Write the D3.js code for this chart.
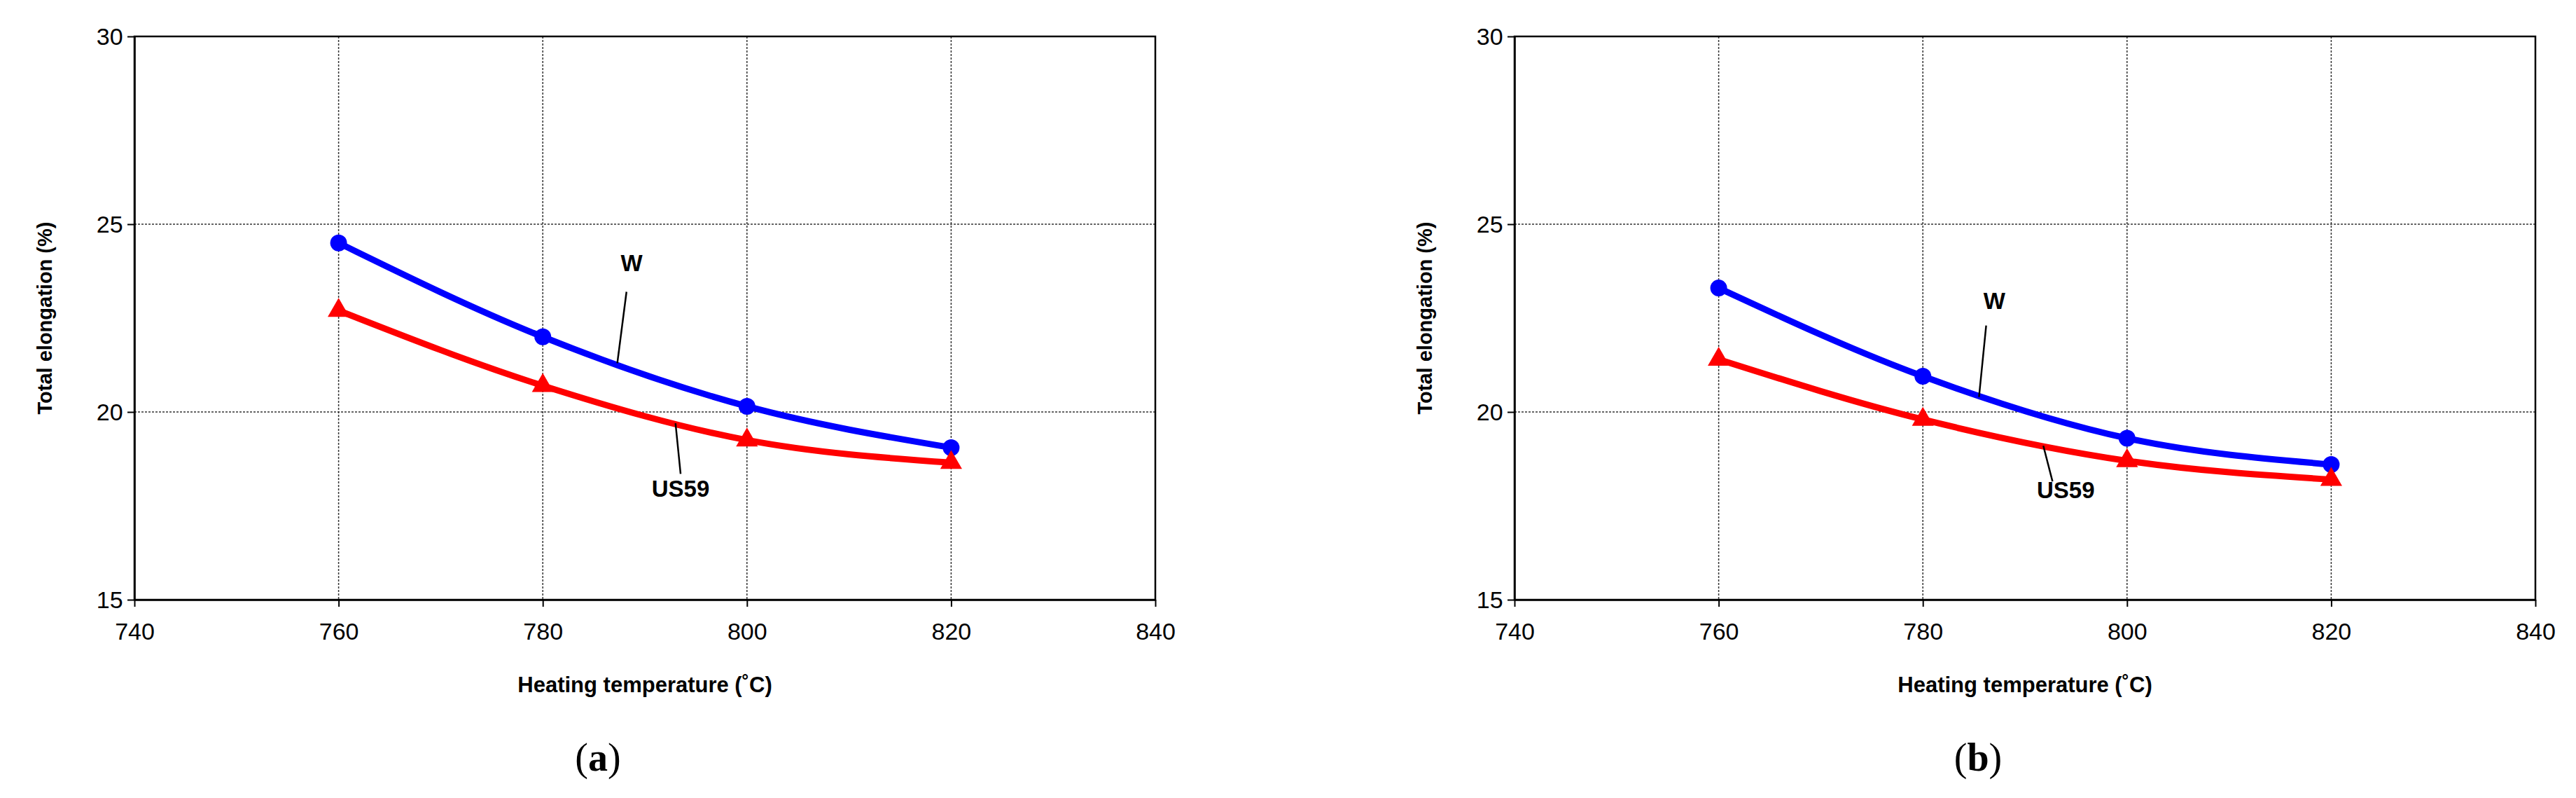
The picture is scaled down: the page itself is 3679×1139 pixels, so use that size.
<!DOCTYPE html>
<html><head><meta charset="utf-8">
<script src="https://cdn.jsdelivr.net/npm/d3@7"></script>
<style>body{margin:0;background:#fff}</style>
</head><body>
<div id="chart"></div>
<script>
let temps = [760, 780, 800, 820];
let xTicks = [740, 760, 780, 800, 820, 840];
let yTicks = [15, 20, 25, 30];
let wA = [24.5, 22.0, 20.15, 19.05];
let usA = [22.7, 20.7, 19.25, 18.65];
let wB = [23.3, 20.95, 19.3, 18.6];
let usB = [21.4, 19.8, 18.7, 18.2];
let panels = [
  { cap: "a", left: 192, w: wA, us: usA,
    wLabel: [788.7, 23.75], wLead: [[788.2, 23.2], [787.3, 21.3]],
    usLabel: [793.5, 17.75], usLead: [[793, 19.7], [793.5, 18.35]] },
  { cap: "b", left: 2163, w: wB, us: usB,
    wLabel: [787, 22.75], wLead: [[786.2, 22.3], [785.5, 20.4]],
    usLabel: [794, 17.7], usLead: [[791.8, 19.1], [792.7, 18.15]] }
];

let width = 3679, height = 1139;
let pw = 1458, plotTop = 52, plotBottom = 856;

let svg = d3.select("#chart").append("svg")
  .attr("width", width).attr("height", height)
  .style("font-family", "Liberation Sans, Arial, sans-serif");

panels.forEach(p => {
  let x = d3.scaleLinear().domain([740, 840]).range([p.left, p.left + pw]);
  let y = d3.scaleLinear().domain([15, 30]).range([plotBottom, plotTop]);
  let g = svg.append("g");

  // grid
  g.selectAll(".gx").data(xTicks.slice(1, -1)).enter().append("line")
    .attr("x1", d => x(d)).attr("x2", d => x(d)).attr("y1", plotTop).attr("y2", plotBottom)
    .attr("stroke", "#333").attr("stroke-width", 1.5).attr("stroke-dasharray", "3,2");
  g.selectAll(".gy").data(yTicks.slice(1, -1)).enter().append("line")
    .attr("y1", d => y(d)).attr("y2", d => y(d)).attr("x1", p.left).attr("x2", p.left + pw)
    .attr("stroke", "#333").attr("stroke-width", 1.5).attr("stroke-dasharray", "3,2");
  g.append("rect").attr("x", p.left).attr("y", plotTop).attr("width", pw).attr("height", plotBottom - plotTop)
    .attr("fill", "none").attr("stroke", "#000").attr("stroke-width", 2.5);

  let xa = g.append("g").attr("transform", `translate(0,${plotBottom})`)
    .call(d3.axisBottom(x).tickValues(xTicks).tickSize(10).tickSizeOuter(0));
  let ya = g.append("g").attr("transform", `translate(${p.left},0)`)
    .call(d3.axisLeft(y).tickValues(yTicks).tickSize(10).tickSizeOuter(0));
  [xa, ya].forEach(a => {
    a.select(".domain").attr("stroke-width", 2.5);
    a.selectAll(".tick line").attr("stroke-width", 2);
    a.selectAll("text").style("font-family", "Liberation Sans Narrow, Liberation Sans, sans-serif")
      .style("font-size", "34px").attr("fill", "#000");
  });
  xa.selectAll("text").attr("dy", "1.3em");
  ya.selectAll("text").attr("dx", "-0.1em").attr("dy", "0.35em");

  g.append("text").attr("x", p.left + pw / 2).attr("y", 988).attr("text-anchor", "middle")
    .style("font-size", "31px").style("font-weight", "bold")
    .style("font-family", "Liberation Sans Narrow, Liberation Sans, sans-serif")
    .text("Heating temperature (˚C)");
  g.append("text").attr("transform", `translate(${p.left - 118},${(plotTop + plotBottom) / 2}) rotate(-90)`)
    .attr("text-anchor", "middle").style("font-size", "29px").style("font-weight", "bold")
    .text("Total elongation (%)");
  g.append("text").attr("x", p.left + pw / 2 - 67).attr("y", 1100).attr("text-anchor", "middle")
    .style("font-family", "Liberation Serif, serif").style("font-size", "56px")
    .html(`(<tspan font-weight="bold">${p.cap}</tspan>)`);

  let line = d3.line().x((d, i) => x(temps[i])).y(d => y(d)).curve(d3.curveMonotoneX);
  g.append("path").attr("d", line(p.w)).attr("fill", "none").attr("stroke", "#0000ff").attr("stroke-width", 9);
  g.append("path").attr("d", line(p.us)).attr("fill", "none").attr("stroke", "#ff0000").attr("stroke-width", 9);
  g.selectAll(".cw").data(p.w).enter().append("circle")
    .attr("cx", (d, i) => x(temps[i])).attr("cy", d => y(d)).attr("r", 12).attr("fill", "#0000ff");
  let tri = d3.symbol().type(d3.symbolTriangle).size(420);
  g.selectAll(".tu").data(p.us).enter().append("path").attr("d", tri)
    .attr("transform", (d, i) => `translate(${x(temps[i])},${y(d)})`).attr("fill", "#ff0000");

  [p.wLead, p.usLead].forEach(s => {
    g.append("line").attr("x1", x(s[0][0])).attr("y1", y(s[0][1]))
      .attr("x2", x(s[1][0])).attr("y2", y(s[1][1])).attr("stroke", "#000").attr("stroke-width", 2.5);
  });
  [["W", p.wLabel], ["US59", p.usLabel]].forEach(t => {
    g.append("text").attr("x", x(t[1][0])).attr("y", y(t[1][1])).attr("text-anchor", "middle")
      .style("font-family", "Liberation Sans Narrow, Liberation Sans, sans-serif")
      .style("font-size", "33px").style("font-weight", "bold").text(t[0]);
  });
});
</script>
</body></html>
